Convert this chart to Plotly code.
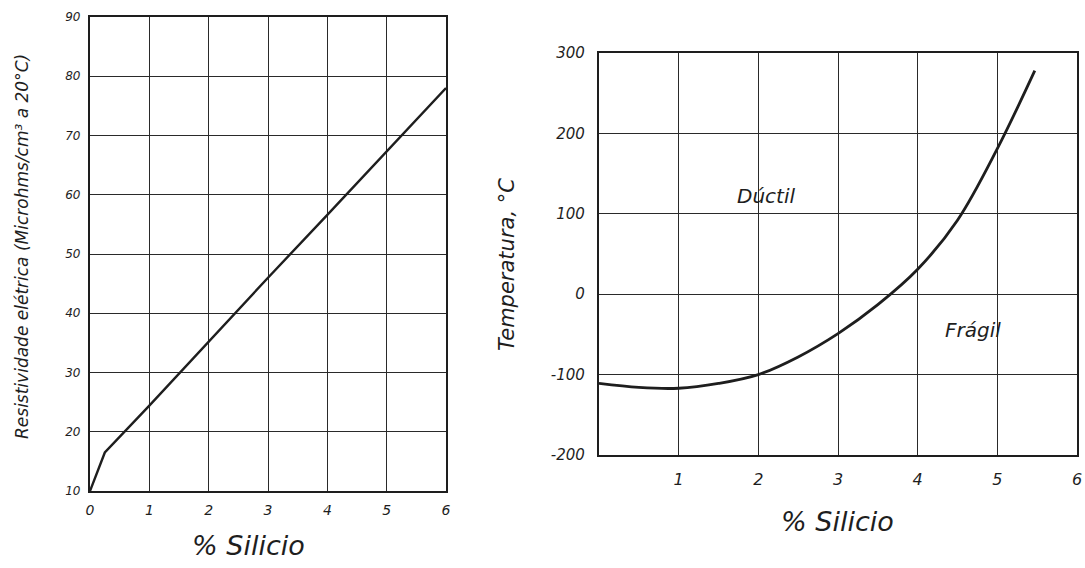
import plotly.graph_objects as go

# Left chart: electrical resistivity vs % silicon
res_si = [0, 0.25, 1, 2, 3, 4, 5, 6]
res_val = [10, 16.5, 24.4, 35.2, 46.0, 56.6, 67.3, 78.0]
res_xticks = [0, 1, 2, 3, 4, 5, 6]
res_yticks = [10, 20, 30, 40, 50, 60, 70, 80, 90]
res_ylabels = ["10", "20", "30", "40", "50", "60", "70", "80", "90"]

# Right chart: transition temperature vs % silicon
temp_si = [0, 0.5, 1, 1.5, 2, 2.5, 3, 3.5, 4, 4.5, 5, 5.47]
temp_val = [-111, -116, -117, -111, -100, -78, -49, -13, 31, 92, 181, 278]
temp_xticks = [1, 2, 3, 4, 5, 6]
temp_yticks = [-200, -100, 0, 100, 200, 300]
temp_ylabels = ["-200", "-100", "0", "100", "200", "300"]

W, H = 1085, 568
INK = "#1e1e1e"
FONT = "DejaVu Sans"

def px(x):
    return x / W

def py(y):
    return 1 - y / H

fig = go.Figure()
fig.add_trace(go.Scatter(x=res_si, y=res_val, mode="lines",
                         line=dict(color=INK, width=2.4), xaxis="x", yaxis="y",
                         showlegend=False, hoverinfo="skip"))
fig.add_trace(go.Scatter(x=temp_si, y=temp_val, mode="lines", line_shape="spline",
                         line=dict(color=INK, width=2.8), xaxis="x2", yaxis="y2",
                         showlegend=False, hoverinfo="skip"))

def axis(domain, rng, ticks, anchor, size, standoff, text=None):
    d = dict(domain=domain, range=rng, tickvals=ticks, anchor=anchor,
             showgrid=True, gridcolor="#2a2a2a", gridwidth=1.2,
             showline=True, linecolor=INK, linewidth=2.2, mirror=True,
             zeroline=False, ticks="outside", ticklen=standoff,
             tickcolor="rgba(0,0,0,0)", automargin=False,
             tickfont=dict(family=FONT, size=size, color=INK, style="italic"),
             fixedrange=True)
    if text is not None:
        d["ticktext"] = text
    return d

fig.update_layout(
    width=W, height=H,
    margin=dict(l=0, r=0, t=0, b=0, autoexpand=False),
    paper_bgcolor="white", plot_bgcolor="white",
    xaxis=axis([px(90), px(446)], [0, 6], res_xticks, "y", 14, 5),
    yaxis=axis([py(491), py(17)], [10, 90], res_yticks, "x", 12, 5, res_ylabels),
    xaxis2=axis([px(599), px(1077)], [0, 6], temp_xticks, "y2", 16, 9),
    yaxis2=axis([py(455), py(53)], [-200, 300], temp_yticks, "x2", 15, 9, temp_ylabels),
)

def ann(text, x, y, size, angle=0, xref="paper", yref="paper"):
    fig.add_annotation(text=text, x=x, y=y, xref=xref, yref=yref,
                       xanchor="center", yanchor="middle",
                       showarrow=False, textangle=angle,
                       font=dict(family=FONT, size=size, color=INK, style="italic"))

ann("% Silicio", px(248), py(545), 27)
ann("% Silicio", px(837), py(521), 27)
ann("Resistividade elétrica (Microhms/cm³ a 20°C)", px(22), py(247), 17, angle=-90)
ann("Temperatura, °C", px(507), py(265), 21, angle=-90)
ann("Dúctil", 2.1, 122, 20, xref="x2", yref="y2")
ann("Frágil", 4.7, -44, 20, xref="x2", yref="y2")

fig.write_html("out.html")
